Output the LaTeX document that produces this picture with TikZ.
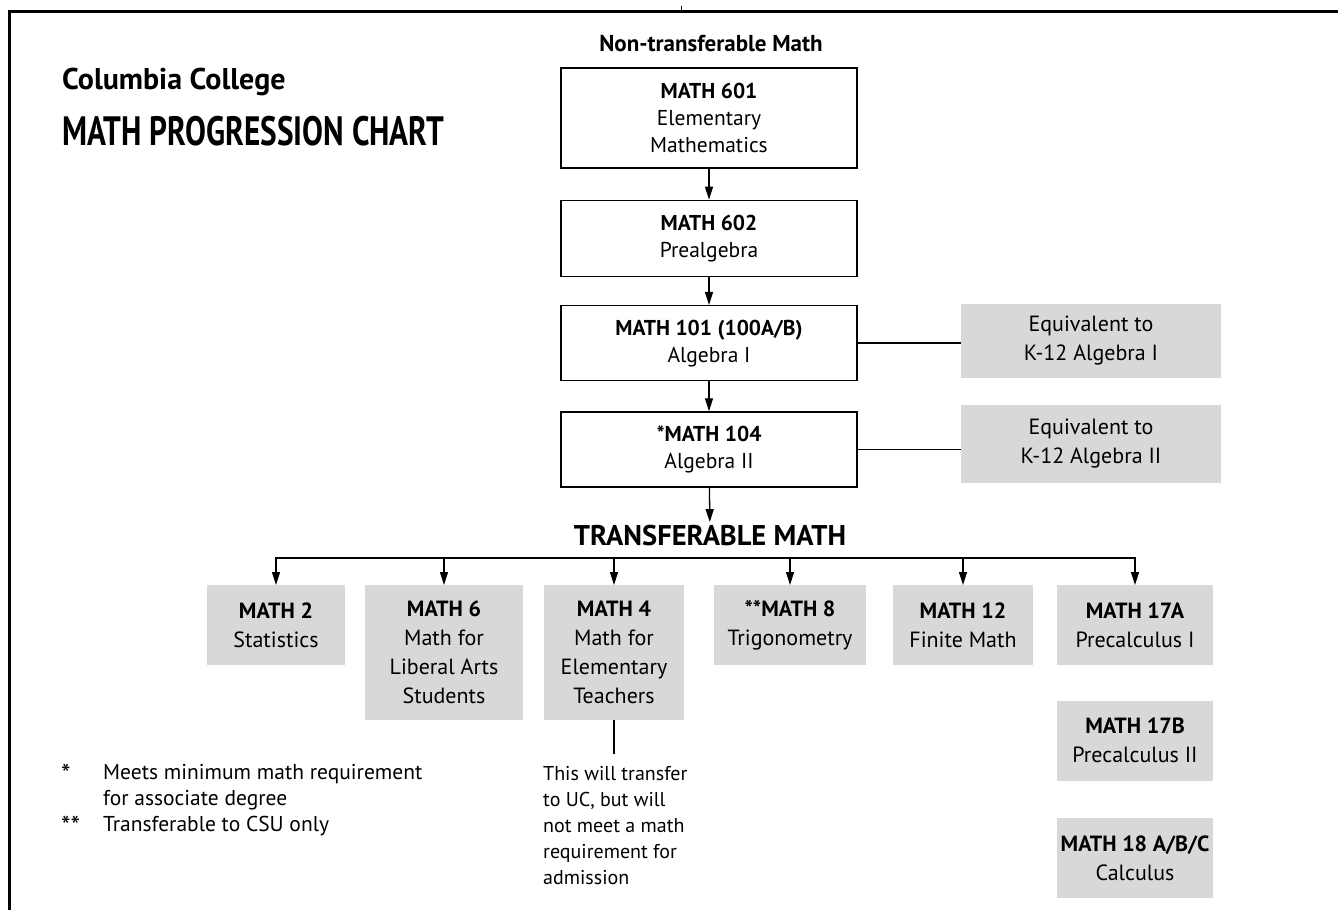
\documentclass[tikz,border=0pt]{standalone}
\usepackage{fontspec}
\setmainfont{PT Sans}
\usepackage{tikz}
\usetikzlibrary{positioning,arrows.meta}
\definecolor{boxgrey}{RGB}{215,216,218}
\newcommand{\legstar}[1]{\raisebox{-4pt}{\fontsize{27}{26}\selectfont #1}}

\begin{document}
\begin{tikzpicture}[
    x=1pt, y=-1pt,
    >={Triangle[length=13pt,width=8pt]},
    CBox/.style={
        draw,
        line width=1.3pt,
        minimum width=296pt,
        align=center,
        inner sep=0pt,
        font=\fontsize{21.5}{27}\selectfont
    },
    GBox/.style={
        fill=boxgrey,
        align=center,
        inner sep=0pt,
        minimum height=80pt,
        font=\fontsize{22}{29}\selectfont
    },
    link/.style={line width=1.3pt}
    ]
    \useasboundingbox (0,0) rectangle (1338,910);
    % page frame
    \draw[line width=3pt] (9.5,910) |- (1338,11.5);
    \draw[line width=0.8pt] (681,6) -- (681,11.5);

    \node[anchor=base west,inner sep=0pt,font=\bfseries\fontsize{30}{33}\selectfont] (college) at (62,89) {Columbia College};
    \node[anchor=base west,inner sep=0pt,font=\bfseries\fontsize{41}{44}\selectfont] (chart) at (62,145) {\scalebox{0.763}[1]{MATH PROGRESSION CHART}};

    % non-transferable column
    \node[font=\bfseries\fontsize{23}{26}\selectfont] (nontrans) at (711,44) {Non-transferable Math};
    \node[CBox,minimum height=100pt] (elem) at (709,118) {\textbf{MATH 601}\\Elementary\\Mathematics};
    \node[CBox,minimum height=76pt] (prealg) [below=31pt of elem] {\textbf{MATH 602}\\Prealgebra};
    \node[CBox,minimum height=75pt] (algone) [below=28pt of prealg] {\textbf{MATH 101 (100A/B)}\\Algebra I};
    \node[CBox,minimum height=75pt] (algtwo) [below=30pt of algone] {\textbf{*MATH 104}\\Algebra II};
    \node[GBox,minimum width=260pt,minimum height=74pt] (eqone) at (1091,341) {Equivalent to\\K-12 Algebra I};
    \node[GBox,minimum width=260pt,minimum height=78pt] (eqtwo) at (1091,444) {Equivalent to\\K-12 Algebra II};
    \node[font=\bfseries\fontsize{28.5}{32}\selectfont] (trans) at (710,536) {TRANSFERABLE MATH};

    \path[->,link]
    (elem) edge (prealg)
    (prealg) edge (algone)
    (algone) edge (algtwo)
    (algtwo) edge (trans);
    \draw[link] (algone.east) -- (algone.east -| eqone.west);
    \draw[link] (algtwo.east) -- (algtwo.east -| eqtwo.west);

    % transferable courses
    \coordinate (bus) at (709,558);
    \node[GBox,minimum width=138pt,anchor=north] (stats) at (276,585) {\textbf{MATH 2}\\Statistics};
    \node[GBox,minimum width=158pt,minimum height=135pt,anchor=north] (libarts) at (444,585) {\textbf{MATH 6}\\Math for\\Liberal Arts\\Students};
    \node[GBox,minimum width=140pt,minimum height=135pt,anchor=north] (teach) at (614,585) {\textbf{MATH 4}\\Math for\\Elementary\\Teachers};
    \node[GBox,minimum width=152pt,anchor=north] (trig) at (790,585) {\textbf{**MATH 8}\\Trigonometry};
    \node[GBox,minimum width=140pt,anchor=north] (finite) at (963,585) {\textbf{MATH 12}\\Finite Math};
    \node[GBox,minimum width=156pt,anchor=north] (precalone) at (1135,585) {\textbf{MATH 17A}\\Precalculus I};
    \node[GBox,minimum width=156pt] (precaltwo) [below=35pt of precalone] {\textbf{MATH 17B}\\Precalculus II};
    \node[GBox,minimum width=156pt] (calc) [below=37pt of precaltwo] {\textbf{MATH 18 A/B/C}\\Calculus};

    \foreach \n in {stats,libarts,teach,trig,finite,precalone}
        \draw[->,link] (bus) -| (\n.north);

    \node[anchor=north west,align=left,inner sep=0pt,font=\fontsize{20}{26}\selectfont] (note) at (543,766) {This will transfer\\to UC, but will\\not meet a math\\requirement for\\admission};
    \draw[link] (teach.south) -- ([yshift=12pt]teach.south |- note.north);

    % footnotes
    \node[anchor=north west,inner sep=0pt,font=\fontsize{21.5}{26}\selectfont] (legend) at (61,761) {%
        \begin{tabular}{@{}p{42pt}@{}l@{}}
        \legstar{*} & Meets minimum math requirement\\
          & for associate degree\\{}
        \legstar{**} & Transferable to CSU only
        \end{tabular}};
\end{tikzpicture}
\end{document}
